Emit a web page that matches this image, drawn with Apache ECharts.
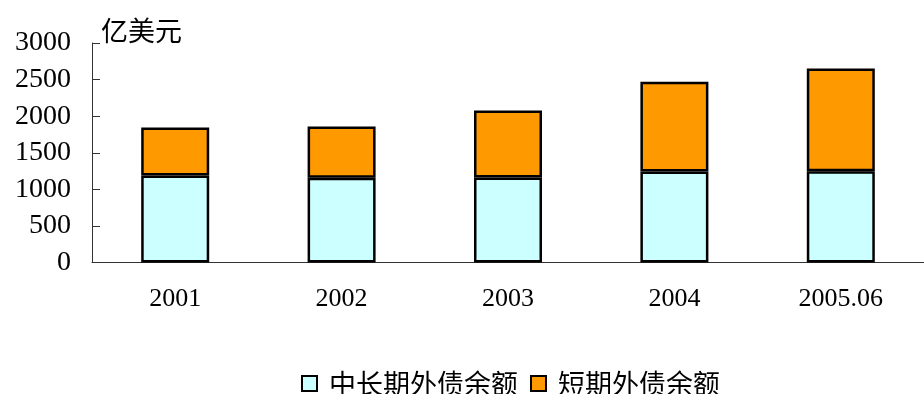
<!DOCTYPE html>
<html><head><meta charset="utf-8">
<script src="https://cdn.jsdelivr.net/npm/echarts@6/dist/echarts.min.js"></script>
<style>html,body{margin:0;padding:0;background:#fff}#c{width:924px;height:394px}</style>
</head><body><div id="c"></div>
<script>
const categories = ['2001', '2002', '2003', '2004', '2005.06'];
const longTerm = [1189, 1158, 1162, 1244, 1247];
const shortTerm = [656, 701, 916, 1226, 1405];
const yTicks = [0, 500, 1000, 1500, 2000, 2500, 3000];
const seriesNames = ['中长期外债余额', '短期外债余额'];
const unitLabel = '亿美元';

const chart = echarts.init(document.getElementById('c'));
chart.setOption({
  animation: false,
  backgroundColor: '#fff',
  title: {
    text: unitLabel, left: 96, top: 12,
    textStyle: { fontFamily: 'Noto Sans CJK SC', fontSize: 27, fontWeight: 'normal', color: '#000' }
  },
  legend: {
    left: 296, top: 365, itemWidth: 15, itemHeight: 15, itemGap: 12,
    icon: 'rect',
    textStyle: { fontFamily: 'Noto Sans CJK SC', fontSize: 27, color: '#000', padding: [0, 0, 0, 7] },
    data: seriesNames
  },
  grid: { left: 92, top: 43, height: 219.5, width: 837, containLabel: false },
  xAxis: {
    type: 'category', data: categories, boundaryGap: true,
    axisLine: { lineStyle: { color: '#333', width: 1 } },
    axisTick: { inside: true, length: 9, lineStyle: { color: '#555' } },
    axisLabel: { margin: 24, fontFamily: 'Liberation Serif', fontSize: 26, color: '#000' }
  },
  yAxis: {
    type: 'value', min: 0, max: 3000, interval: 500,
    splitLine: { show: false },
    axisLine: { show: true, lineStyle: { color: '#333', width: 1 } },
    axisTick: { show: true, inside: true, length: 8, lineStyle: { color: '#333' } },
    axisLabel: {
      margin: 21, fontFamily: 'Liberation Serif', fontSize: 28, color: '#000',
      formatter: v => yTicks.includes(v) ? String(v) : ''
    }
  },
  series: [
    {
      name: seriesNames[0], type: 'bar', stack: 'a', data: longTerm, barWidth: 68,
      itemStyle: { color: '#CCFFFF', borderColor: '#000', borderWidth: 2.5 }
    },
    {
      name: seriesNames[1], type: 'bar', stack: 'a', data: shortTerm, barWidth: 68,
      itemStyle: { color: '#FF9900', borderColor: '#000', borderWidth: 2.5 }
    }
  ]
});
</script></body></html>
